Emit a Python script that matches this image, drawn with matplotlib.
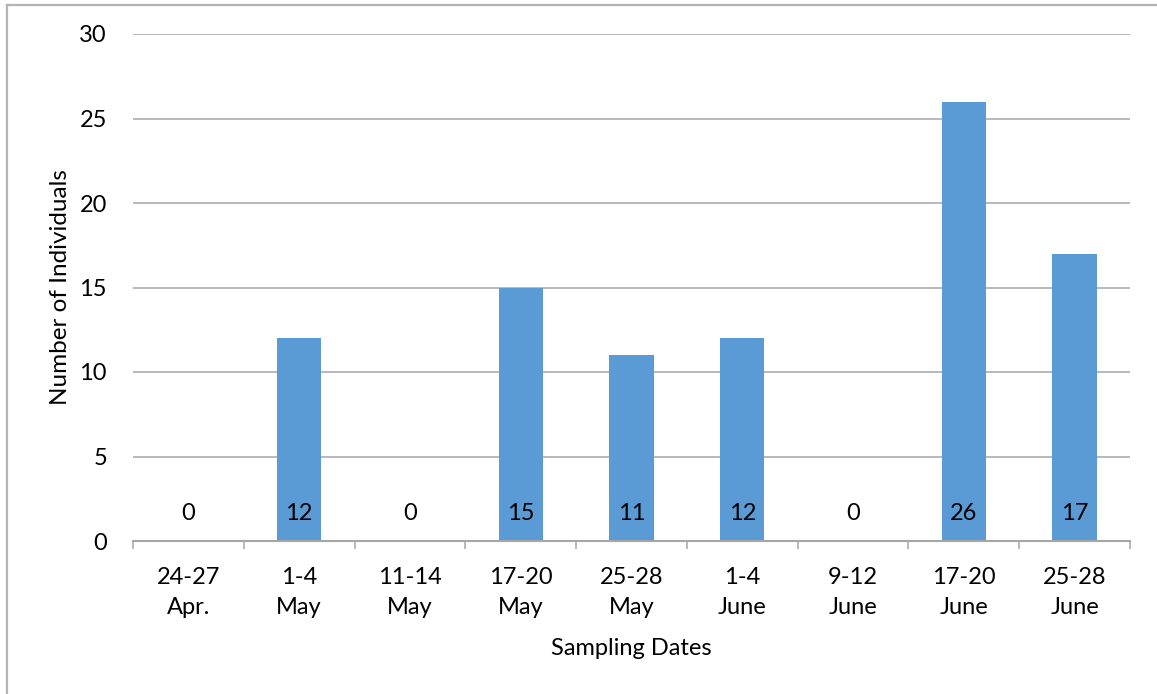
import matplotlib.pyplot as plt
import numpy as np
from matplotlib.lines import Line2D

plt.rcParams['font.family'] = ['Lato', 'DejaVu Sans']

dates = ['24-27\nApr.', '1-4\nMay', '11-14\nMay', '17-20\nMay', '25-28\nMay',
         '1-4\nJune', '9-12\nJune', '17-20\nJune', '25-28\nJune']
counts = [0, 12, 0, 15, 11, 12, 0, 26, 17]
yticks = [0, 5, 10, 15, 20, 25, 30]

W, H = 1157, 694
fig = plt.figure(figsize=(W / 100, H / 100), dpi=100)
ax = fig.add_axes([133 / W, 1 - 541 / H, (1130 - 133) / W, (541 - 34) / H])

x = np.arange(len(dates))
ax.bar(x, counts, width=0.4, color='#5B9BD5', zorder=2)

# value labels sit near the base of each bar
for xi, v in zip(x, counts):
    ax.annotate(str(v), (xi, 0), xytext=(0, 19.5), textcoords='offset points',
                ha='center', va='center', fontsize=17, color='black', zorder=3)

ax.set_xlim(-0.5, len(dates) - 0.5)
ax.set_ylim(0, 30)
ax.set_yticks(yticks)
ax.grid(axis='y', color='#A6A6A6', linewidth=1.1, zorder=0)
ax.tick_params(axis='y', length=0, pad=26 * 0.72, labelsize=17)

ax.set_xticks(x)
ax.set_xticklabels(dates, linespacing=1.52)
ax.set_xticks(np.arange(-0.5, len(dates)), minor=True)
ax.tick_params(axis='x', which='major', length=0, pad=18.5, labelsize=17)
ax.tick_params(axis='x', which='minor', length=6, width=1.1, color='#A6A6A6',
               direction='out')

for s in ['top', 'right', 'left']:
    ax.spines[s].set_visible(False)
ax.spines['bottom'].set_color('#A6A6A6')
ax.spines['bottom'].set_linewidth(1.5)

ax.set_xlabel('Sampling Dates', fontsize=17, labelpad=15)
ax.set_ylabel('Number of Individuals', fontsize=17.5, labelpad=6)

# chart frame on the left and top edges
fig.add_artist(Line2D([7 / W, 7 / W], [0, 1 - 5 / H], color='#B4B4B4', linewidth=1.6,
                      transform=fig.transFigure))
fig.add_artist(Line2D([7 / W, 1], [1 - 5 / H, 1 - 5 / H], color='#B4B4B4', linewidth=1.6,
                      transform=fig.transFigure))

fig.savefig('out.png', dpi=100)
